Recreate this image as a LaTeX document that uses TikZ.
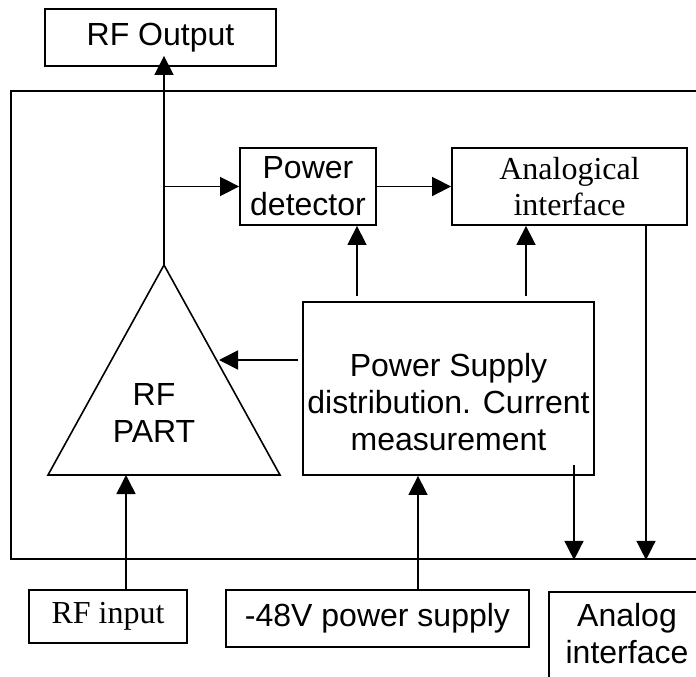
\documentclass[tikz,border=0pt]{standalone}
\usepackage{fontspec}
\setmainfont{Liberation Serif}
\newfontfamily\arialfont{Liberation Sans}
\usetikzlibrary{arrows.meta}
\begin{document}
\begin{tikzpicture}[x=1pt,y=-1pt,
  box/.style={draw, line width=1.8pt, inner sep=0pt, rectangle},
  sans/.style={font=\arialfont\fontsize{32}{36.8}\selectfont, align=center},
  serif/.style={font=\fontsize{32}{36.8}\selectfont, align=center},
  wire/.style={line width=1.6pt},
  arr/.style={wire, -{Triangle[length=19pt,width=19pt]}}]
\path[use as bounding box, clip] (0,0) rectangle (696,677);

% outer enclosure (runs past the right edge)
\node[box, minimum width=740pt, minimum height=468pt] (frame) at (381,325) {};

% top output box
\node[box, sans, minimum width=231pt, minimum height=57pt] (rfout) at (160.5,37.5) {RF Output};

% detector and interface
\node[box, sans, minimum width=136pt, minimum height=77pt] (pdet) at (308,186.5) {Power\\detector};
\node[box, serif, minimum width=235pt, minimum height=77pt] (anaif) at (569.5,186.5) {Analogical\\interface};

% power supply block
\node[box, minimum width=291pt, minimum height=173pt] (pwr) at (448.5,388.5) {};
\node[sans] (pwrtxt) at (448.5,402) {Power Supply\\distribution. Current\\measurement};

% amplifier triangle
\coordinate (apex) at (164,265);
\coordinate (bl) at (48,475);
\coordinate (br) at (280,475);
\draw[wire, line join=miter] (apex) -- (br) -- (bl) -- cycle;
\node[sans] (rfpart) at (154,413) {RF\\PART};
\coordinate (rfedge) at (219,360);

% bottom boxes
\node[box, serif, minimum width=158pt, minimum height=53pt] (rfin) at (108,616.5) {RF input};
\node[box, sans, minimum width=303pt, minimum height=57pt] (psu) at (377.5,618.5) {-48V power supply};
\node[box, anchor=north west, minimum width=200pt, minimum height=120pt] (aif) at (548,591) {};
\node[sans] (aiftxt) at (627,633.5) {Analog\\interface};

% connector columns
\coordinate (c1) at (357,0);
\coordinate (c2) at (526,0);
\coordinate (c3) at (574,0);
\coordinate (c4) at (646,0);
\coordinate (c5) at (126,0);
\coordinate (c6) at (418,0);

% connectors
\draw[arr, shorten >=-11pt] (apex) -- (rfout.south -| apex);
\draw[arr] (apex |- pdet.west) -- (pdet.west);
\draw[arr] (pdet.east) -- (anaif.west);
\draw[arr, shorten <=5pt] (pwr.north -| c1) -- (pdet.south -| c1);
\draw[arr, shorten <=5pt] (pwr.north -| c2) -- (anaif.south -| c2);
\draw[arr, shorten <=4pt] (pwr.west |- rfedge) -- (rfedge);
\draw[arr, shorten <=-11pt] (pwr.south -| c3) -- (frame.south -| c3);
\draw[arr] (anaif.south -| c4) -- (frame.south -| c4);
\draw[arr] (rfin.north -| c5) -- (bl -| c5);
\draw[arr] (psu.north -| c6) -- (pwr.south -| c6);
\end{tikzpicture}
\end{document}
